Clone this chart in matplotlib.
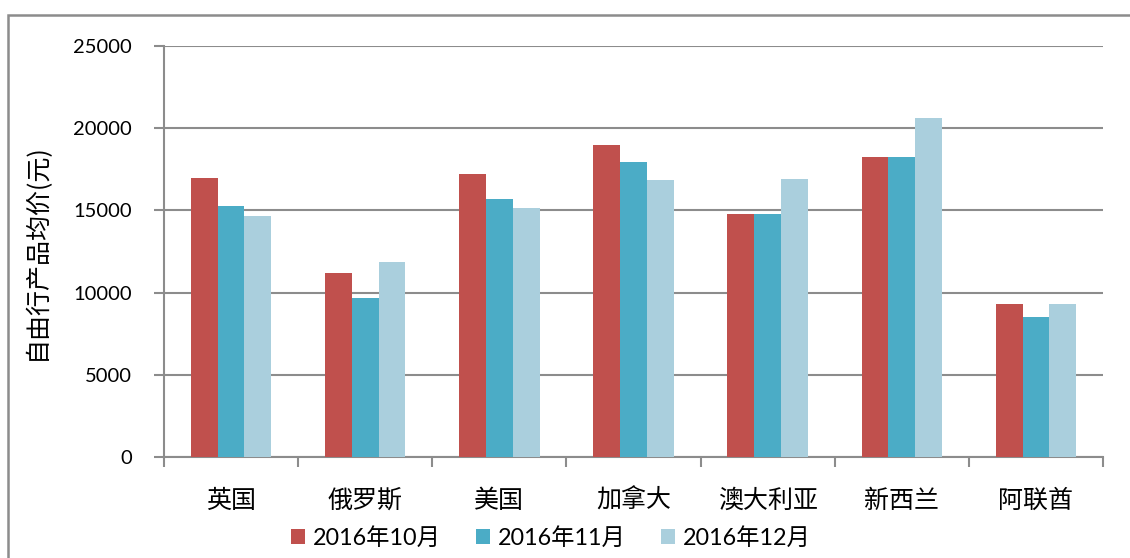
import matplotlib
matplotlib.use('Agg')
import matplotlib.pyplot as plt
from matplotlib.patches import Rectangle
import numpy as np

plt.rcParams['font.family'] = ['Lato', 'Noto Sans CJK SC', 'DejaVu Sans']

# data
countries = ['英国', '俄罗斯', '美国', '加拿大', '澳大利亚', '新西兰', '阿联酋']
series_names = ['2016年10月', '2016年11月', '2016年12月']
oct_2016 = [16950, 11200, 17200, 19000, 14800, 18250, 9300]
nov_2016 = [15250, 9650, 15700, 17950, 14800, 18250, 8500]
dec_2016 = [14650, 11850, 15150, 16850, 16900, 20650, 9300]
y_ticks = [0, 5000, 10000, 15000, 20000, 25000]

COLORS = ['#C0504D', '#4BACC6', '#AACFDD']
GRID = '#8C8C8C'

fig = plt.figure(figsize=(11.3, 5.58), dpi=100)
ax = fig.add_axes([164 / 1130, 1 - 457 / 558, (1103 - 164) / 1130, (457 - 46) / 558])

# outer chart border (cropped at right/bottom like the source)
fig.patches.append(Rectangle((8 / 1130, -0.2), 1.2, 1 - 15 / 558 + 0.2,
                             transform=fig.transFigure, fill=False,
                             edgecolor=GRID, linewidth=1.8, zorder=0))

x = np.arange(len(countries))
w = 0.2
for i, (vals, name) in enumerate(zip([oct_2016, nov_2016, dec_2016], series_names)):
    ax.bar(x + (i - 1) * w, vals, width=w, color=COLORS[i], label=name,
           edgecolor='none', zorder=3)

ax.set_xlim(-0.5, len(countries) - 0.5)
ax.set_ylim(0, 25000)
ax.set_yticks(y_ticks)
ax.set_yticklabels([str(v) for v in y_ticks], fontsize=14.5)
ax.yaxis.grid(True, color=GRID, linewidth=1.5, zorder=0)
ax.set_axisbelow(True)

ax.set_xticks(x)
ax.set_xticklabels(countries, fontsize=18, family=['Noto Sans CJK SC'])
ax.set_xticks(np.arange(-0.5, len(countries)), minor=True)
ax.tick_params(axis='x', which='major', length=0, pad=22)
ax.tick_params(axis='x', which='minor', length=7, width=1.5, color=GRID, direction='out')
ax.tick_params(axis='y', length=7, width=1.5, color=GRID, direction='out', pad=16)

for s in ['top', 'right']:
    ax.spines[s].set_visible(False)
for s in ['left', 'bottom']:
    ax.spines[s].set_color(GRID)
    ax.spines[s].set_linewidth(1.5)

ax.set_ylabel('自由行产品均价(元)', fontsize=18, family=['Noto Sans CJK SC', 'DejaVu Sans'])
ax.yaxis.set_label_coords(-0.121, 0.5)

fig.legend(loc='center', bbox_to_anchor=(551 / 1130, 1 - 538 / 558), ncol=3,
           frameon=False, fontsize=16.8, handlelength=0.6, handleheight=0.6,
           handletextpad=0.35, columnspacing=1.5)

fig.savefig('out.png', dpi=100, facecolor='white')
